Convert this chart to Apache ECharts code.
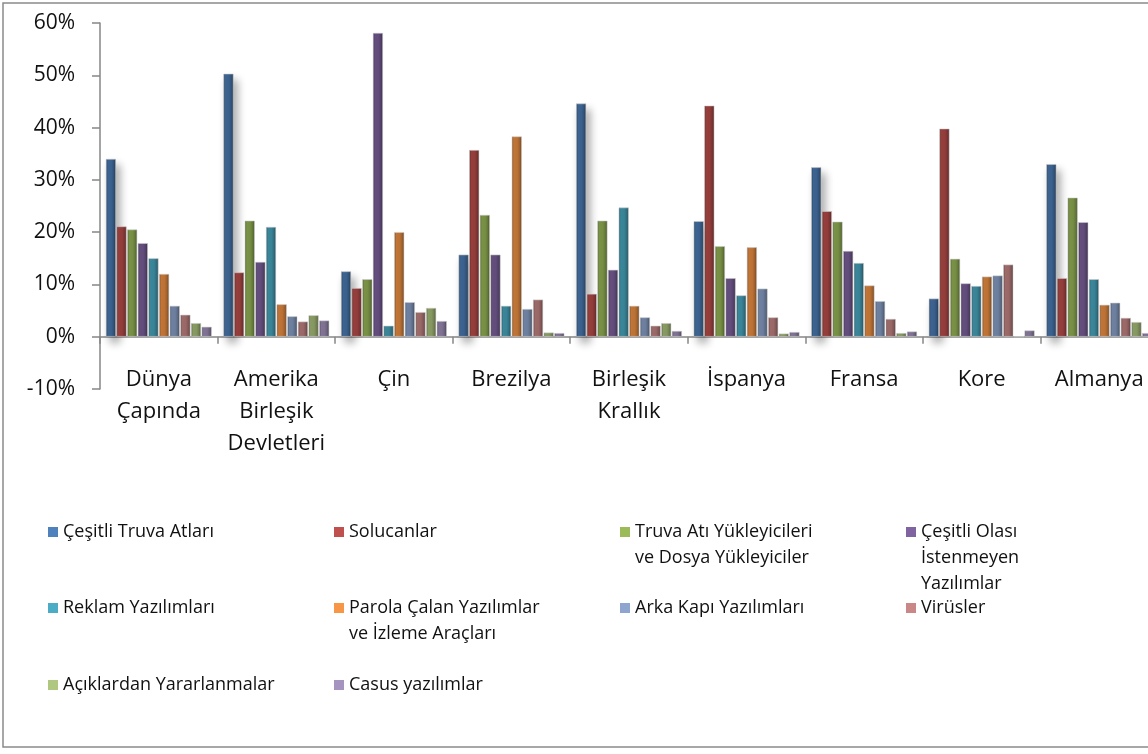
<!DOCTYPE html>
<html>
<head>
<meta charset="utf-8">
<script src="https://cdn.jsdelivr.net/npm/echarts@6/dist/echarts.min.js"></script>
<style>
  html, body { margin: 0; padding: 0; background: #ffffff; overflow: hidden; }
  /* the plot runs slightly past the right edge of the window */
  #chart { width: 1164px; height: 754px; }
</style>
</head>
<body>
<div id="chart"></div>
<script>
// Countries / regions on the category axis
const categories = ['Dünya\nÇapında', 'Amerika\nBirleşik\nDevletleri', 'Çin', 'Brezilya',
  'Birleşik\nKrallık', 'İspanya', 'Fransa', 'Kore', 'Almanya'];

// Share of detections per malware family (%)
const cesitliTruvaAtlari   = [34.0, 50.3, 12.5, 15.7, 44.6, 22.1, 32.4,  7.3, 33.0];
const solucanlar           = [21.1, 12.3,  9.3, 35.7,  8.2, 44.2, 24.0, 39.8, 11.2];
const truvaYukleyicileri   = [20.5, 22.2, 11.0, 23.3, 22.2, 17.3, 22.0, 14.9, 26.6];
const istenmeyenYazilimlar = [17.9, 14.3, 58.1, 15.7, 12.8, 11.2, 16.4, 10.2, 21.9];
const reklamYazilimlari    = [15.0, 21.0,  2.1,  5.9, 24.7,  7.9, 14.1,  9.7, 11.0];
const parolaCalanlar       = [12.0,  6.2, 20.0, 38.3,  5.9, 17.1,  9.8, 11.5,  6.1];
const arkaKapiYazilimlari  = [ 5.9,  3.9,  6.6,  5.3,  3.7,  9.2,  6.8, 11.7,  6.5];
const virusler             = [ 4.2,  2.9,  4.7,  7.1,  2.1,  3.7,  3.4, 13.8,  3.6];
const aciklardanYararlanma = [ 2.6,  4.1,  5.5,  0.8,  2.6,  0.6,  0.7,  0.0,  2.8];
const casusYazilimlar      = [ 1.9,  3.1,  3.0,  0.7,  1.1,  0.9,  1.0,  1.2,  0.7];

// Series names and their wrapped legend text
const seriesNames = [
  'Çeşitli Truva Atları', 'Solucanlar', 'Truva Atı Yükleyicileri ve Dosya Yükleyiciler',
  'Çeşitli Olası İstenmeyen Yazılımlar', 'Reklam Yazılımları',
  'Parola Çalan Yazılımlar ve İzleme Araçları', 'Arka Kapı Yazılımları', 'Virüsler',
  'Açıklardan Yararlanmalar', 'Casus yazılımlar'
];
const legendLines = [
  ['Çeşitli Truva Atları'], ['Solucanlar'], ['Truva Atı Yükleyicileri', 've Dosya Yükleyiciler'],
  ['Çeşitli Olası', 'İstenmeyen', 'Yazılımlar'], ['Reklam Yazılımları'],
  ['Parola Çalan Yazılımlar', 've İzleme Araçları'], ['Arka Kapı Yazılımları'], ['Virüsler'],
  ['Açıklardan Yararlanmalar'], ['Casus yazılımlar']
];
const seriesValues = [cesitliTruvaAtlari, solucanlar, truvaYukleyicileri, istenmeyenYazilimlar,
  reklamYazilimlari, parolaCalanlar, arkaKapiYazilimlari, virusler, aciklardanYararlanma, casusYazilimlar];

const yTicks = { min: -10, max: 60, interval: 10 };

const palette = ['#4F81BD', '#C0504D', '#9BBB59', '#8064A2', '#4BACC6', '#F79646',
  '#8EA6CF', '#C98887', '#AFC77F', '#A594BF'];

function shade(hex, f) {
  const n = parseInt(hex.slice(1), 16);
  const r = Math.round(((n >> 16) & 255) * f);
  const g = Math.round(((n >> 8) & 255) * f);
  const b = Math.round((n & 255) * f);
  return 'rgb(' + r + ',' + g + ',' + b + ')';
}

// horizontal shading that gives the bars a bevelled look
function bevel(hex) {
  return new echarts.graphic.LinearGradient(0, 0, 1, 0, [
    { offset: 0, color: shade(hex, 0.5) },
    { offset: 0.2, color: shade(hex, 0.78) },
    { offset: 0.55, color: shade(hex, 0.76) },
    { offset: 0.8, color: shade(hex, 0.64) },
    { offset: 1, color: shade(hex, 0.42) }
  ]);
}

const FONT = 'Open Sans';
const LEG_LINE = 26;
const colX = [48, 334, 620, 906];
const rowY = [532, 608, 685];

const legends = seriesNames.map(function (name, i) {
  const lines = legendLines[i];
  // pad with blank lines above so the marker sits beside the first line
  const pad = lines.length - 1;
  const text = new Array(pad).fill('').concat(lines).join('\n');
  const totalLines = lines.length + pad;
  return {
    data: [{ name: name, itemStyle: { color: palette[i], borderWidth: 0 } }],
    left: colX[i % 4],
    top: rowY[Math.floor(i / 4)] - (totalLines * LEG_LINE) / 2,
    padding: 0,
    itemWidth: 10,
    itemHeight: 10,
    icon: 'rect',
    selectedMode: false,
    formatter: function () { return text; },
    textStyle: { fontFamily: FONT, fontSize: 18, color: '#111', lineHeight: LEG_LINE }
  };
});

const series = seriesNames.map(function (name, i) {
  const style = {
    color: bevel(palette[i]),
    borderColor: 'rgba(205,205,205,0.9)',
    borderWidth: 0.6
  };
  if (i === 0) {
    style.shadowColor = 'rgba(0,0,0,0.35)';
    style.shadowBlur = 8;
    style.shadowOffsetX = 4;
    style.shadowOffsetY = 6;
  }
  return {
    name: name,
    type: 'bar',
    data: seriesValues[i],
    barGap: '6%',
    barCategoryGap: '10%',
    itemStyle: style
  };
});

const chart = echarts.init(document.getElementById('chart'), null, { renderer: 'canvas' });
chart.setOption({
  animation: false,
  backgroundColor: '#ffffff',
  grid: { left: 100, top: 23, width: 1058, height: 366, containLabel: false },
  xAxis: {
    type: 'category',
    data: categories,
    axisLine: { onZero: true, lineStyle: { color: '#868686', width: 1.5 } },
    axisTick: { show: true, alignWithLabel: false, length: 7, lineStyle: { color: '#868686', width: 1.5 } },
    axisLabel: { interval: 0, margin: -25, fontFamily: FONT, fontSize: 22, color: '#111', lineHeight: 32 }
  },
  yAxis: {
    type: 'value',
    min: yTicks.min,
    max: yTicks.max,
    interval: yTicks.interval,
    splitLine: { show: false },
    axisLine: { show: true, lineStyle: { color: '#868686', width: 1.5 } },
    axisTick: { show: true, length: 8, lineStyle: { color: '#868686', width: 1.5 } },
    axisLabel: { formatter: '{value}%', margin: 25, fontFamily: FONT, fontSize: 21, color: '#111' }
  },
  legend: legends,
  graphic: [{
    type: 'rect',
    shape: { x: 3, y: 3, width: 1200, height: 744 },
    style: { fill: 'none', stroke: '#8a8a8a', lineWidth: 1.5 },
    silent: true
  }],
  series: series
});
</script>
</body>
</html>
